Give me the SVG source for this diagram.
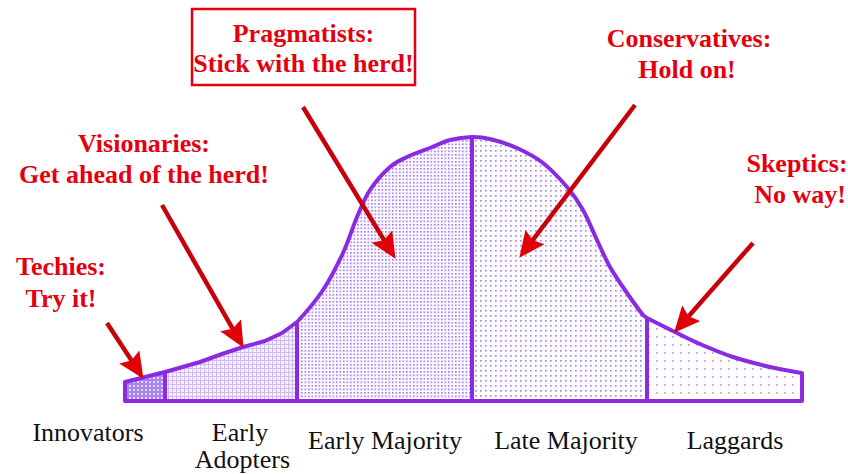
<svg xmlns="http://www.w3.org/2000/svg" width="848" height="474" viewBox="0 0 848 474">
<style>
.note{font-family:"Liberation Serif","Times New Roman",serif;font-weight:bold;font-size:26px;fill:#e3000f;text-anchor:middle}
.cat{font-family:"Liberation Serif","Times New Roman",serif;font-size:26px;fill:#111;text-anchor:middle}
.arrow{stroke:#c8000a;stroke-width:4.5;fill:none;marker-end:url(#head)}
.edge{fill:none;stroke:#8a2be2;stroke-width:4;stroke-linejoin:round;stroke-linecap:round}
.div{stroke:#8a2be2;stroke-width:4}
</style>
<defs>
<marker id="head" viewBox="0 0 26 24" refX="12" refY="12" markerWidth="26" markerHeight="24" markerUnits="userSpaceOnUse" orient="auto">
<path d="M0,0 L26,12 L0,24 L4,12 Z" fill="#e00008"/>
</marker>
<pattern id="p1" width="4" height="4" patternUnits="userSpaceOnUse">
<rect width="4" height="4" fill="#a985ee"/>
<rect x="1" y="1" width="2" height="2" fill="#e3d6fb"/>
</pattern>
<pattern id="p2" width="4" height="4" patternUnits="userSpaceOnUse">
<rect width="4" height="4" fill="#f6f1fe"/>
<rect width="4" height="1" fill="#cfbaf6"/>
<rect width="1" height="4" fill="#cfbaf6"/>
</pattern>
<pattern id="p3" width="3.5" height="3.5" patternUnits="userSpaceOnUse">
<rect width="3.5" height="3.5" fill="#fbf9ff"/>
<rect width="1.6" height="1.6" fill="#a27ce8"/>
</pattern>
<pattern id="p4" width="5" height="5" patternUnits="userSpaceOnUse">
<rect width="5" height="5" fill="#fdfcff"/>
<rect width="1.7" height="1.7" fill="#ab8cec"/>
</pattern>
<pattern id="p5" width="8" height="8" patternUnits="userSpaceOnUse">
<rect width="8" height="8" fill="#fefdff"/>
<rect width="1.7" height="1.7" fill="#b59ced"/>
</pattern>
</defs>
<rect width="848" height="474" fill="#fff"/>

<g id="curve">
<path id="innovators-area" d="M125,401 L125,382 L145,377 L165,372 L165,401 Z" fill="url(#p1)"/>
<path id="early-adopters-area" d="M165,401 L165,372 L200,362 L222,354 L243,347 L265,341 L282,333 L297,322 L297,401 Z" fill="url(#p2)"/>
<path id="early-majority-area" d="M297,401 L297,322 C303.8,314.8 315.3,301.5 323,290 C330.7,278.5 337.3,265.2 343,253 C348.7,240.8 352.5,227.5 357,217 C361.5,206.5 364.5,198.3 370,190 C375.5,181.7 383.8,172.5 390,167 C396.2,161.5 400.3,160.2 407,157 C413.7,153.8 422.8,150.8 430,148 C437.2,145.2 443,141.8 450,140 C457,138.2 465.3,137.2 472,137 L472,401 Z" fill="url(#p3)"/>
<path id="late-majority-area" d="M472,401 L472,137 C478.7,136.8 482.5,137.2 490,139 C497.5,140.8 508.2,144 517,148 C525.8,152 534.7,156.5 543,163 C551.3,169.5 560.3,179.2 567,187 C573.7,194.8 578,201.2 583,210 C588,218.8 592.5,230.5 597,240 C601.5,249.5 605,258.2 610,267 C615,275.8 621.5,285 627,293 C632.5,301 639.7,310.8 643,315 L647,318 L647,401 Z" fill="url(#p4)"/>
<path id="laggards-area" d="M647,401 L647,318 C651.7,320.3 666.2,327.7 675,332 C683.8,336.3 690.3,339.8 700,344 C709.7,348.2 721.3,353.2 733,357 C744.7,360.8 758.5,364.3 770,367 C781.5,369.7 796.7,372 802,373 L802,401 Z" fill="url(#p5)"/>
<path class="edge" d="M125,401 L125,382 L145,377 L165,372 L200,362 L222,354 L243,347 L265,341 L282,333 L297,322 C303.8,314.8 315.3,301.5 323,290 C330.7,278.5 337.3,265.2 343,253 C348.7,240.8 352.5,227.5 357,217 C361.5,206.5 364.5,198.3 370,190 C375.5,181.7 383.8,172.5 390,167 C396.2,161.5 400.3,160.2 407,157 C413.7,153.8 422.8,150.8 430,148 C437.2,145.2 443,141.8 450,140 C457,138.2 465.3,137.2 472,137 C478.7,136.8 482.5,137.2 490,139 C497.5,140.8 508.2,144 517,148 C525.8,152 534.7,156.5 543,163 C551.3,169.5 560.3,179.2 567,187 C573.7,194.8 578,201.2 583,210 C588,218.8 592.5,230.5 597,240 C601.5,249.5 605,258.2 610,267 C615,275.8 621.5,285 627,293 C632.5,301 639.7,310.8 643,315 L647,318 C651.7,320.3 666.2,327.7 675,332 C683.8,336.3 690.3,339.8 700,344 C709.7,348.2 721.3,353.2 733,357 C744.7,360.8 758.5,364.3 770,367 C781.5,369.7 796.7,372 802,373 L802,401 Z"/>
<line class="div" x1="165" y1="372" x2="165" y2="401"/>
<line class="div" x1="297" y1="322" x2="297" y2="401"/>
<line class="div" x1="472" y1="137" x2="472" y2="401"/>
<line class="div" x1="647" y1="318" x2="647" y2="401"/>
</g>

<g id="connectors">
<line class="arrow" x1="107" y1="323" x2="135.8" y2="367.1"/>
<line class="arrow" x1="162" y1="205" x2="236.6" y2="335.7"/>
<line class="arrow" x1="303" y1="107" x2="388.2" y2="246.9"/>
<line class="arrow" x1="635" y1="105" x2="527.8" y2="246.6"/>
<line class="arrow" x1="753" y1="243" x2="683.3" y2="322.3"/>
</g>

<g id="techies">
<text class="note" x="61" y="275">Techies:</text>
<text class="note" x="61" y="307">Try it!</text>
</g>
<g id="visionaries">
<text class="note" x="144" y="152">Visionaries:</text>
<text class="note" x="144" y="183">Get ahead of the herd!</text>
</g>
<g id="pragmatists">
<rect x="192" y="9" width="223" height="76" fill="#fff" stroke="#e3000f" stroke-width="2.5"/>
<text class="note" x="303.5" y="42">Pragmatists:</text>
<text class="note" x="303.5" y="72">Stick with the herd!</text>
</g>
<g id="conservatives">
<text class="note" x="689" y="47">Conservatives:</text>
<text class="note" x="687" y="78">Hold on!</text>
</g>
<g id="skeptics">
<text class="note" x="797" y="172">Skeptics:</text>
<text class="note" x="800" y="203">No way!</text>
</g>

<g id="innovators"><text class="cat" x="88" y="441">Innovators</text></g>
<g id="early-adopters"><text class="cat" x="240" y="441">Early</text><text class="cat" x="242.5" y="468">Adopters</text></g>
<g id="early-majority"><text class="cat" x="385" y="449">Early Majority</text></g>
<g id="late-majority"><text class="cat" x="566" y="449">Late Majority</text></g>
<g id="laggards"><text class="cat" x="735" y="449">Laggards</text></g>
</svg>
